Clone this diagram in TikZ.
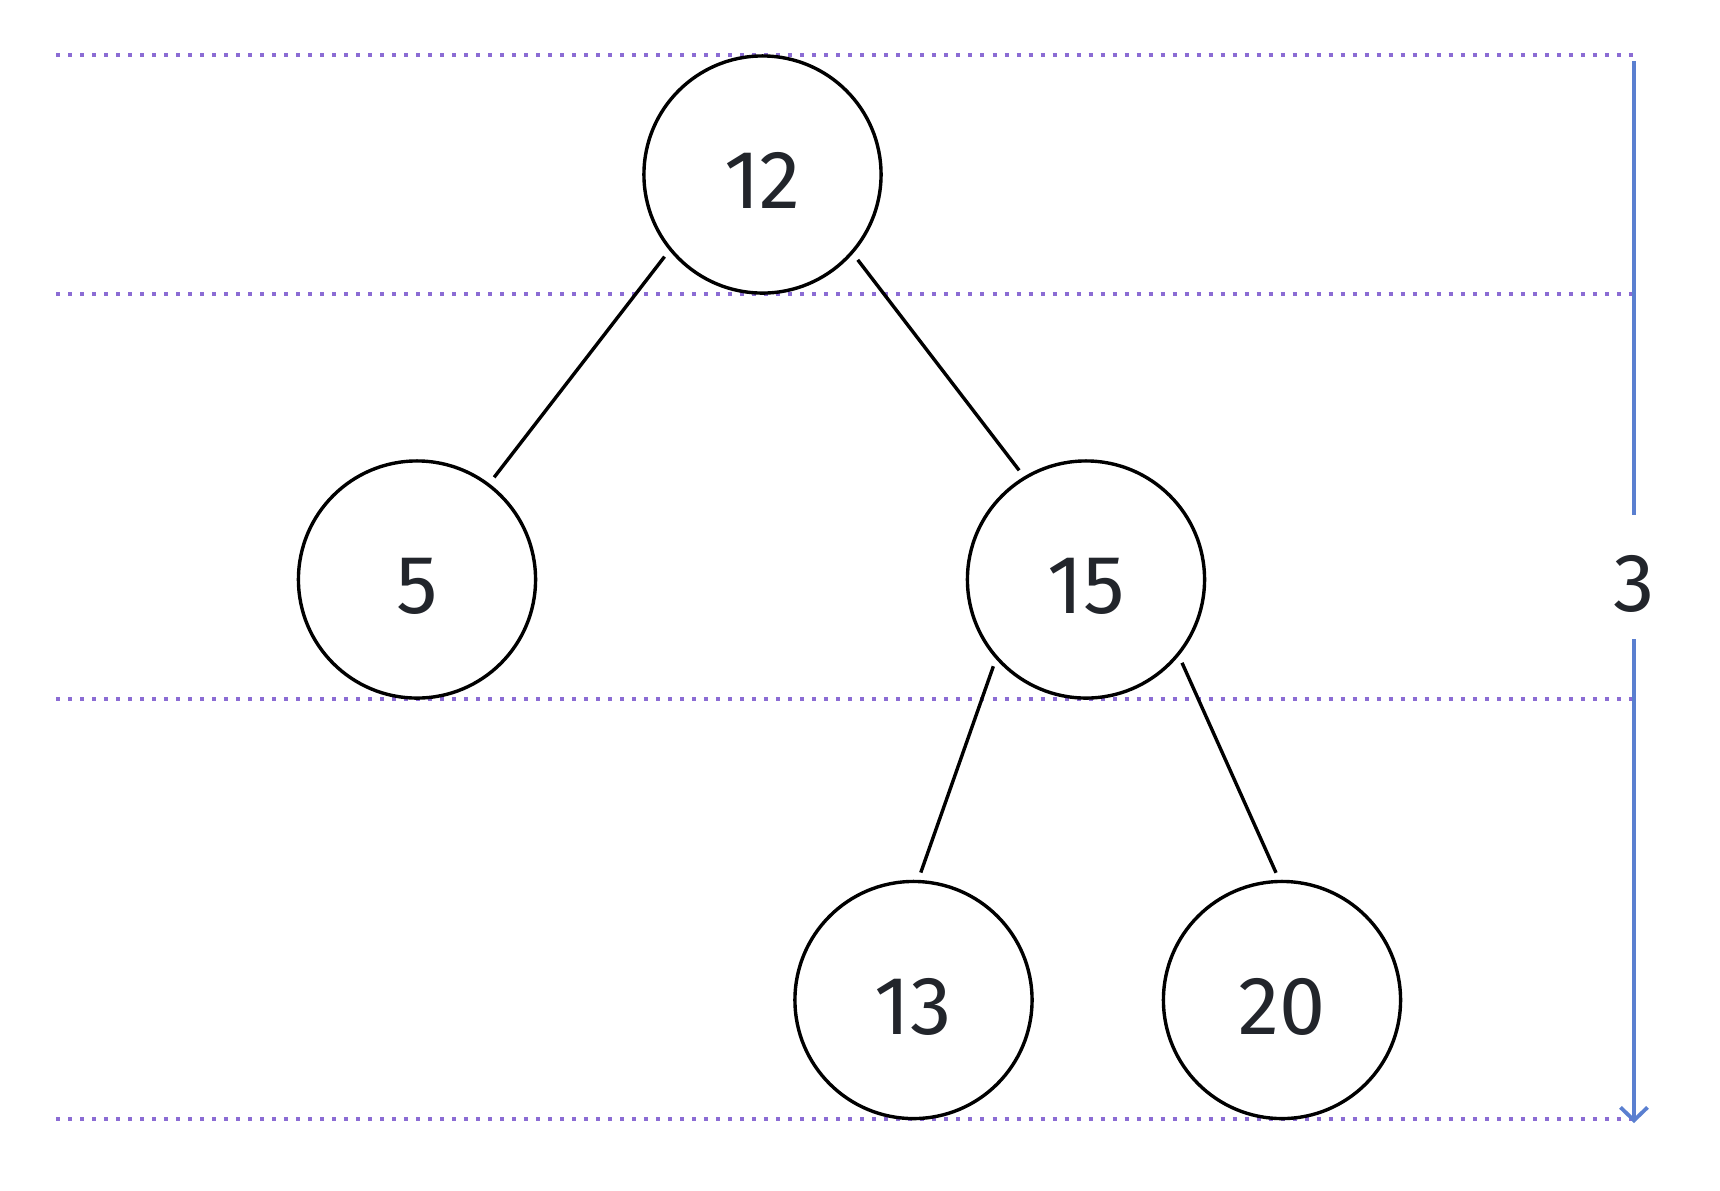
\documentclass[tikz,border=0pt]{standalone}
\usepackage{fontspec}
\setmainfont{Fira Sans}
\usepackage{tikz}
\usetikzlibrary{arrows.meta}
\definecolor{levelpurple}{HTML}{8B6CD4}
\definecolor{heightblue}{HTML}{5A7FD0}
\definecolor{keyink}{HTML}{22252B}
\tikzset{
  treenode/.style={
    circle, draw=black, line width=0.034cm, inner sep=0pt, outer sep=0pt,
    minimum size=2.37cm, text=keyink, text height=0.68cm, text depth=0pt,
    font=\fontsize{23.5}{28}\selectfont},
  treeedge/.style={
    line width=0.034cm, draw=black,
    shorten <=0.095cm, shorten >=0.095cm},
  levelline/.style={
    levelpurple, line width=0.04cm, dash pattern=on 0.04cm off 0.08cm},
  heightarrow/.style={
    heightblue, line width=0.038cm},
  heightlabel/.style={
    inner sep=0pt, minimum height=1.23cm, text=keyink,
    text height=0.68cm, text depth=0pt,
    font=\fontsize{23.5}{28}\selectfont},
}

\begin{document}
\begin{tikzpicture}[x=0.01cm, y=-0.01cm]
  \useasboundingbox (0,0) rectangle (1720,1190);
  % level guides
  \foreach \ly in {55,294,699,1119}
    \draw[levelline] (56,\ly) -- (1634,\ly);
  % keys
  \node[treenode] (n12) at (762.5,174.5) {12};
  \node[treenode] (n5)  at (417,579.5)   {5};
  \node[treenode] (n15) at (1086,579.5)  {15};
  \node[treenode] (n13) at (913.5,1000)  {13};
  \node[treenode] (n20) at (1282,1000)   {20};
  \draw[treeedge] (n12.219)   -- (n5.53);
  \draw[treeedge] (n12.-41.8) -- (n15.121);
  \draw[treeedge] (n15.221.3) -- (n13.88.9);
  \draw[treeedge] (n15.-39.2) -- (n20.91.7);
  % height
  \coordinate (htop) at (1634,61);
  \coordinate (hbot) at (1634,1123);
  \node[heightlabel] (hval) at (1634,577) {3};
  \draw[heightarrow] (htop) -- (hval.north);
  \draw[heightarrow, -{Straight Barb[length=0.13cm, width=0.27cm]}] (hval.south) -- (hbot);
\end{tikzpicture}
\end{document}
